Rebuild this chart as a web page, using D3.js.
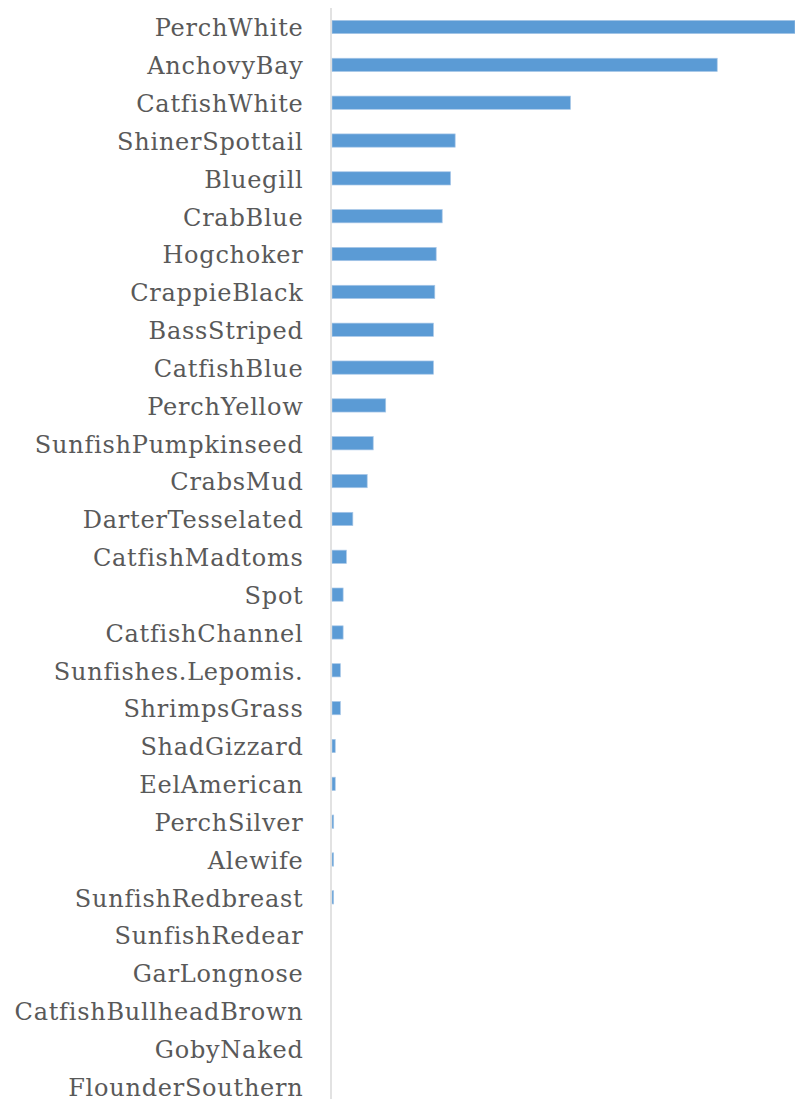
<!DOCTYPE html>
<html>
<head>
<meta charset="utf-8">
<script src="https://cdn.jsdelivr.net/npm/d3@7"></script>
<style>
  html, body { margin: 0; padding: 0; background: #fff; }
  svg { display: block; }
  .lbl text { font-family: "DejaVu Serif", "Liberation Serif", serif; }
</style>
</head>
<body>
<svg id="chart" width="795" height="1099"></svg>
<script>
const categories = ["PerchWhite","AnchovyBay","CatfishWhite","ShinerSpottail","Bluegill","CrabBlue","Hogchoker","CrappieBlack","BassStriped","CatfishBlue","PerchYellow","SunfishPumpkinseed","CrabsMud","DarterTesselated","CatfishMadtoms","Spot","CatfishChannel","Sunfishes.Lepomis.","ShrimpsGrass","ShadGizzard","EelAmerican","PerchSilver","Alewife","SunfishRedbreast","SunfishRedear","GarLongnose","CatfishBullheadBrown","GobyNaked","FlounderSouthern"];
const values = [100, 83.2, 51.5, 26.6, 25.6, 23.8, 22.5, 22.2, 21.9, 21.9, 11.6, 8.9, 7.6, 4.5, 3.1, 2.4, 2.4, 1.8, 1.8, 0.7, 0.7, 0.37, 0.36, 0.36, 0, 0, 0, 0, 0];

const data = categories.map((c, i) => ({ name: c, value: values[i] }));
const svg = d3.select("#chart");

const x = d3.scaleLinear().domain([0, 100]).range([332, 795]);
const y = d3.scaleBand().domain(categories).range([8.1, 8.1 + 29 * 37.84]).paddingInner(0.65).paddingOuter(0.325);

svg.append("g").selectAll("rect").data(data).join("rect")
  .attr("x", x(0))
  .attr("y", d => y(d.name))
  .attr("width", d => Math.max(0, x(d.value) - x(0)))
  .attr("height", y.bandwidth())
  .attr("fill", "#5b9bd5")
  .attr("stroke", d => d.value > 0 ? "#a7c7e7" : "none")
  .attr("stroke-width", 0.7);

const yAxis = d3.axisLeft(y).tickSize(0).tickPadding(0);
const ag = svg.append("g").attr("class", "lbl").attr("transform", "translate(331,0)").call(yAxis);
ag.attr("font-family", null).attr("font-size", null);
ag.select(".domain").attr("stroke", "#d9d9d9").attr("stroke-width", 1.5)
  .attr("d", "M0,8V1099");
ag.selectAll("text")
  .attr("x", -27.5)
  .attr("dy", "9.3px")
  .attr("fill", "#595959")
  .style("font-size", "24px")
  .style("letter-spacing", "0.75px");
</script>
</body>
</html>
